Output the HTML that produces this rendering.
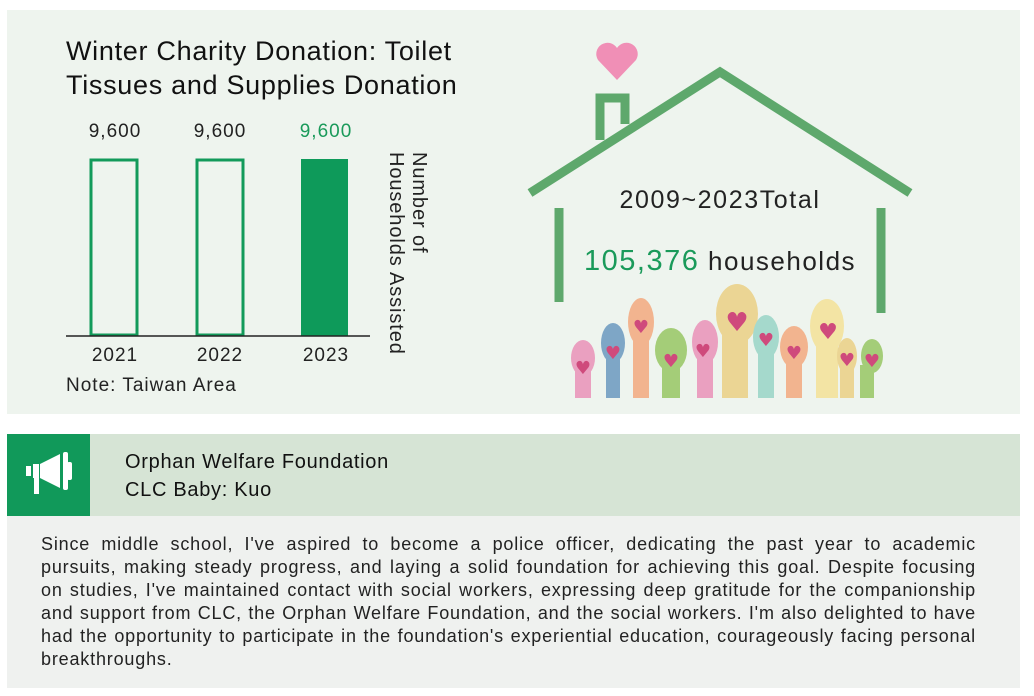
<!DOCTYPE html>
<html><head><style>
body{margin:0;width:1034px;height:696px;background:#fff;font-family:"Liberation Sans",sans-serif;position:relative;overflow:hidden}
.a{position:absolute}
</style></head><body>
<div class="a" style="left:7px;top:10px;width:1013px;height:404px;background:#eef4ee"></div>
<div class="a" style="left:66px;top:34px;font-size:27px;letter-spacing:0.7px;line-height:34px;color:#111;white-space:nowrap">Winter Charity Donation: Toilet<br>Tissues and Supplies Donation</div>
<svg class="a" style="left:0;top:0" width="1034" height="420">
<g font-family="Liberation Sans" font-size="19" text-anchor="middle" fill="#222" letter-spacing="1">
<text x="115" y="137">9,600</text><text x="220" y="137">9,600</text><text x="326" y="137" fill="#1a9a5a">9,600</text>
<text x="115" y="361">2021</text><text x="220" y="361">2022</text><text x="326" y="361">2023</text>
</g>
<rect x="91" y="160" width="46" height="175" fill="none" stroke="#129a5a" stroke-width="3"/>
<rect x="197" y="160" width="46" height="175" fill="none" stroke="#129a5a" stroke-width="3"/>
<rect x="301" y="159" width="47" height="177" fill="#0e9a5a"/>
<line x1="66" y1="336" x2="370" y2="336" stroke="#222" stroke-width="1.5"/>
<text transform="translate(413,152) rotate(90)" font-size="20" letter-spacing="0.9" fill="#222" font-family="Liberation Sans">Number of</text>
<text transform="translate(390,152) rotate(90)" font-size="20" letter-spacing="0.9" fill="#222" font-family="Liberation Sans">Households Assisted</text>
<g fill="none" stroke="#5ea86c" stroke-width="9">
<polyline points="530,193 720,72 910,193"/>
<polyline points="600,140 600,98 625,98 625,124"/>
<line x1="559" y1="208" x2="559" y2="302"/>
<line x1="881" y1="208" x2="881" y2="313"/>
</g>
<path d="M617,80 L598,60 A10,10 0 0 1 617,48 A10,10 0 0 1 636,60 Z" fill="#f08fb6"/>
<text x="720" y="208" text-anchor="middle" font-size="25" letter-spacing="1.6" fill="#222" font-family="Liberation Sans">2009~2023Total</text>
<text x="584" y="270" font-size="29" letter-spacing="1.5" fill="#1a9a5a" font-family="Liberation Sans">105,376<tspan font-size="26" fill="#222"> households</tspan></text>
<g>
<g fill="#eaa0c0"><rect x="575" y="362" width="16" height="36"/><ellipse cx="583" cy="358" rx="12" ry="18"/></g>
<g fill="#7ea6c6"><rect x="606" y="345" width="14" height="53"/><ellipse cx="613" cy="343" rx="12" ry="20"/></g>
<g fill="#f2b48f"><rect x="633" y="330" width="16" height="68"/><ellipse cx="641" cy="322" rx="13" ry="24"/></g>
<g fill="#a4cd78"><rect x="662" y="360" width="18" height="38"/><ellipse cx="671" cy="350" rx="16" ry="22"/></g>
<g fill="#eaa0c0"><rect x="697" y="345" width="16" height="53"/><ellipse cx="705" cy="342" rx="13" ry="22"/></g>
<g fill="#ebd594"><rect x="722" y="325" width="26" height="73"/><ellipse cx="737" cy="314" rx="21" ry="30"/></g>
<g fill="#a5d9cc"><rect x="758" y="345" width="16" height="53"/><ellipse cx="766" cy="337" rx="13" ry="22"/></g>
<g fill="#f2b48f"><rect x="786" y="355" width="16" height="43"/><ellipse cx="794" cy="347" rx="14" ry="21"/></g>
<g fill="#f3e4a4"><rect x="816" y="340" width="22" height="58"/><ellipse cx="827" cy="326" rx="17" ry="27"/></g>
<g fill="#ebd594"><rect x="840" y="365" width="14" height="33"/><ellipse cx="847" cy="356" rx="10" ry="18"/></g>
<g fill="#a4cd78"><rect x="860" y="365" width="14" height="33"/><ellipse cx="872" cy="356" rx="11" ry="17"/></g>
<g fill="#cf4a7c" font-size="18" text-anchor="middle" font-family="DejaVu Sans">
<text x="583" y="374">♥</text><text x="613" y="359">♥</text><text x="641" y="333">♥</text><text x="671" y="367">♥</text><text x="703" y="357">♥</text><text x="737" y="331" font-size="26">♥</text><text x="766" y="346">♥</text><text x="794" y="359">♥</text><text x="828" y="339" font-size="22">♥</text><text x="847" y="366">♥</text><text x="872" y="367">♥</text>
</g>
</g>
</svg>
<div class="a" style="left:66px;top:375px;font-size:19px;letter-spacing:1px;color:#222">Note: Taiwan Area</div>
<div class="a" style="left:7px;top:434px;width:1013px;height:82px;background:#d6e4d5"></div>
<div class="a" style="left:7px;top:434px;width:83px;height:82px;background:#11995a"></div>
<svg class="a" style="left:20px;top:450px" width="60" height="50"><g fill="#fff">
<rect x="6" y="16" width="5" height="10"/><rect x="13" y="14" width="6" height="14"/><polygon points="20,14 40,4 40,38 20,28"/><rect x="43" y="2" width="5" height="38" rx="2"/><rect x="47" y="12" width="5" height="18" rx="2"/><rect x="14" y="28" width="5" height="16"/>
</g></svg>
<div class="a" style="left:125px;top:448px;font-size:20px;letter-spacing:0.7px;line-height:28px;color:#111">Orphan Welfare Foundation<br>CLC Baby: Kuo</div>
<div class="a" style="left:7px;top:516px;width:1013px;height:172px;background:#eff1ef"></div>
<div class="a" style="left:41px;top:533px;width:935px;font-size:18px;letter-spacing:0.82px;line-height:23px;color:#222;text-align:justify">Since middle school, I've aspired to become a police officer, dedicating the past year to academic pursuits, making steady progress, and laying a solid foundation for achieving this goal. Despite focusing on studies, I've maintained contact with social workers, expressing deep gratitude for the companionship and support from CLC, the Orphan Welfare Foundation, and the social workers. I'm also delighted to have had the opportunity to participate in the foundation's experiential education, courageously facing personal breakthroughs.</div>
</body></html>
